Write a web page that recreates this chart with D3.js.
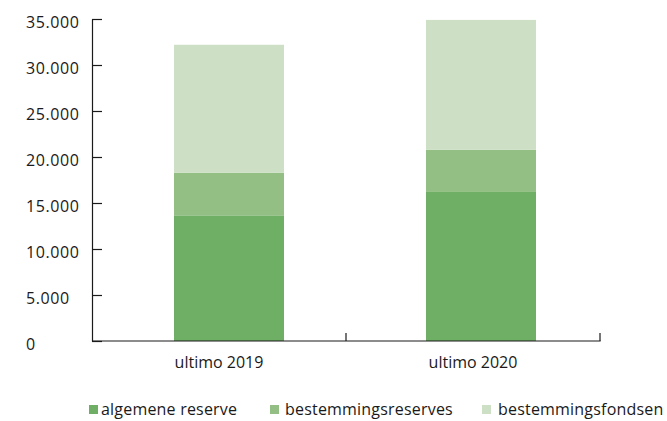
<!DOCTYPE html>
<html><head><meta charset="utf-8">
<script src="https://cdn.jsdelivr.net/npm/d3@7"></script>
<style>
body{margin:0;background:#fff;}
text{font-family:"Open Sans",sans-serif;fill:#1a1a1a;}
</style></head>
<body><svg id="c" width="667" height="421"></svg>
<script>
const categories = ["ultimo 2019", "ultimo 2020"];
const seriesNames = ["algemene reserve", "bestemmingsreserves", "bestemmingsfondsen"];
const algemeneReserve = [13600, 16200];
const bestemmingsreserves = [4700, 4600];
const bestemmingsfondsen = [13900, 14100];
const yTicks = [0, 5000, 10000, 15000, 20000, 25000, 30000, 35000];
const yTickLabels = ["0", "5.000", "10.000", "15.000", "20.000", "25.000", "30.000", "35.000"];
const colors = ["#6faf65", "#93bf84", "#cde0c5"];

const svg = d3.select("#c");
const x0 = 92, x1 = 600, yTop = 19, yBase = 341;
// category bands (axis labels / boundaries)
const x = d3.scaleBand().domain(categories).range([x0, x1]);
// bar placement
const xb = d3.scaleBand().domain(categories).range([174, 536]).paddingInner(0.5635).paddingOuter(0);
const y = d3.scaleLinear().domain([0, 35000]).range([yBase, yTop]);

const table = categories.map((c, i) => ({cat: c, a: algemeneReserve[i], b: bestemmingsreserves[i], f: bestemmingsfondsen[i]}));
const stack = d3.stack().keys(["a", "b", "f"])(table);

svg.append("g").selectAll("g").data(stack).join("g")
  .attr("fill", (d, i) => colors[i])
  .selectAll("rect").data(d => d).join("rect")
  .attr("x", d => xb(d.data.cat))
  .attr("width", xb.bandwidth())
  .attr("y", d => y(d[1]))
  .attr("height", d => y(d[0]) - y(d[1]));

// y axis
const yAxis = svg.append("g").attr("transform", `translate(${x0},0)`)
  .call(d3.axisLeft(y).tickValues(yTicks).tickFormat((d, i) => yTickLabels[i]).tickSize(-10).tickSizeOuter(0));
yAxis.select(".domain").attr("stroke", "#1a1a1a").attr("stroke-width", 1.2);
yAxis.selectAll(".tick line").attr("stroke", "#1a1a1a").attr("stroke-width", 1.2);
yAxis.selectAll(".tick text").attr("x", 26 - x0).attr("text-anchor", "start")
  .attr("dy", "0.32em").attr("transform", "translate(0,3)")
  .style("font-size", "16px").style("letter-spacing", "0.6px")
  .style("font-family", "'Open Sans',sans-serif").attr("fill", "#1a1a1a");

// x axis baseline with up ticks at band boundaries
const xa = svg.append("g");
xa.append("line").attr("x1", x0).attr("x2", x1 + 0.6).attr("y1", yBase).attr("y2", yBase).attr("stroke", "#1a1a1a").attr("stroke-width", 1.2);
const bounds = [x(categories[1]), x1];
xa.selectAll(".bt").data(bounds).join("line").attr("class", "bt")
  .attr("x1", d => d).attr("x2", d => d).attr("y1", yBase).attr("y2", yBase - 8)
  .attr("stroke", "#1a1a1a").attr("stroke-width", 1.2);
xa.selectAll(".xl").data(categories).join("text").attr("class", "xl")
  .attr("x", d => x(d) + x.bandwidth() / 2).attr("y", 368)
  .attr("text-anchor", "middle").style("font-size", "16px").text(d => d);

// legend
const legSq = [89, 270, 482];
const legTx = [101, 285, 498];
const lg = svg.append("g");
seriesNames.forEach((n, i) => {
  lg.append("rect").attr("x", legSq[i]).attr("y", 405).attr("width", 9).attr("height", 9).attr("fill", colors[i]);
  lg.append("text").attr("x", legTx[i]).attr("y", 415).style("font-size", "16px").style("letter-spacing", "0.2px").text(n);
});
</script></body></html>
